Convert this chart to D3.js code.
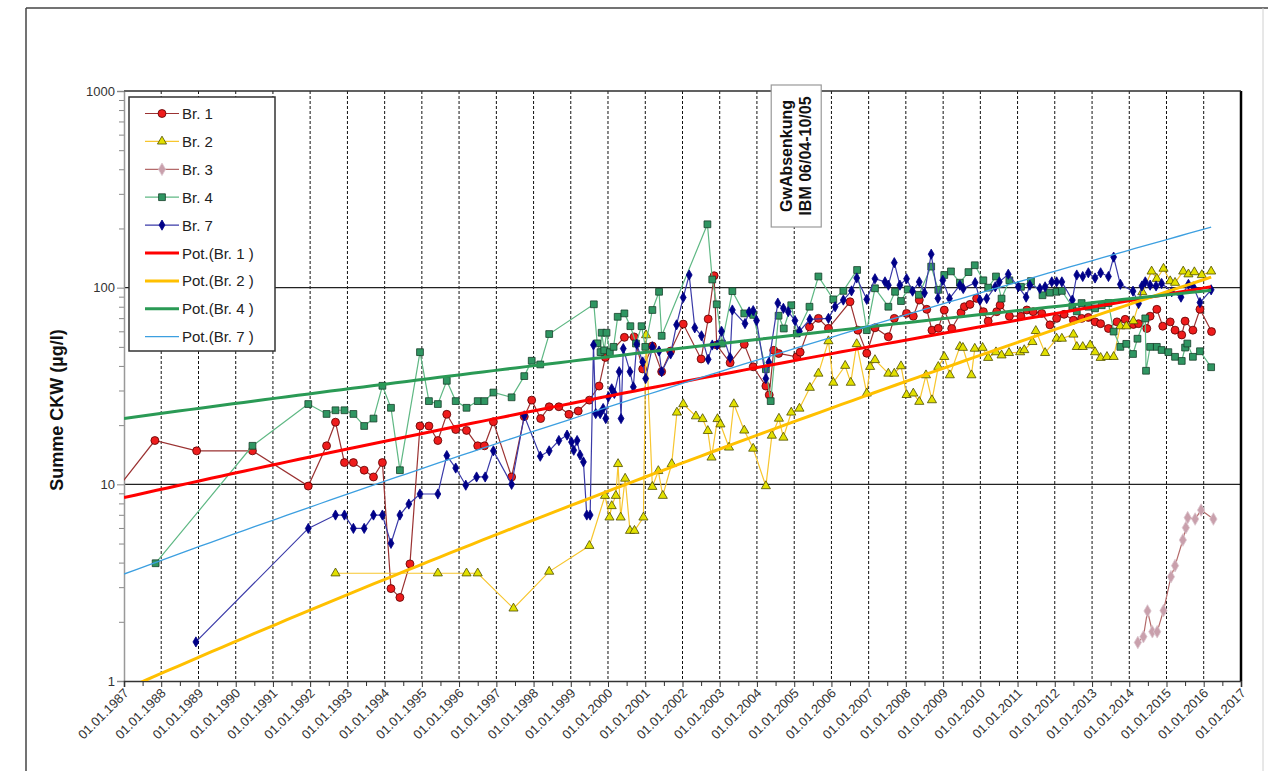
<!DOCTYPE html>
<html>
<head>
<meta charset="utf-8">
<script src="https://cdn.jsdelivr.net/npm/d3@7"></script>
<style>
  body { margin: 0; background: #fff; }
  svg { display: block; font-family: "Liberation Sans", Arial, sans-serif; }
</style>
</head>
<body>
<div id="chart"></div>
<script>
// values, dates as decimal years
const br1Years = [1986.8, 1987.83, 1988.95, 1990.45, 1991.95, 1992.44, 1992.68, 1992.92, 1993.16, 1993.45, 1993.70, 1993.94, 1994.17, 1994.41, 1994.68, 1994.95, 1995.19, 1995.43, 1995.67, 1995.91, 1996.20, 1996.50, 1996.68, 1996.92, 1997.41, 1997.75, 1997.95, 1998.19, 1998.42, 1998.68, 1998.95, 1999.20, 1999.50, 1999.76, 1999.93, 2000.44, 2000.70, 2000.93, 2001.19, 2001.44, 2001.68, 2002.02, 2002.50, 2002.69, 2002.85, 2002.92, 2003.28, 2003.66, 2003.90, 2004.24, 2004.33, 2004.45, 2004.58, 2005.07, 2005.16, 2005.41, 2005.65, 2005.92, 2006.50, 2006.71, 2006.95, 2007.17, 2007.53, 2007.69, 2008.02, 2008.20, 2008.36, 2008.56, 2008.70, 2008.87, 2009.03, 2009.23, 2009.48, 2009.57, 2009.72, 2009.90, 2010.08, 2010.21, 2010.44, 2010.53, 2010.78, 2011.09, 2011.25, 2011.42, 2011.65, 2011.87, 2012.05, 2012.25, 2012.50, 2012.72, 2012.90, 2013.08, 2013.23, 2013.44, 2013.67, 2013.89, 2014.11, 2014.25, 2014.47, 2014.56, 2014.74, 2014.90, 2015.10, 2015.23, 2015.41, 2015.50, 2015.71, 2015.90, 2016.21];
const br1Values = [9.4, 16.7, 14.8, 14.8, 9.8, 15.7, 20.7, 12.9, 12.9, 11.8, 10.9, 12.9, 2.95, 2.66, 3.94, 19.8, 19.8, 16.7, 22.7, 19.0, 18.8, 15.7, 15.7, 20.8, 10.9, 22.1, 26.8, 21.6, 24.8, 24.8, 22.7, 23.6, 26.8, 31.6, 44.2, 55.9, 56.2, 38.6, 50.5, 37.4, 47.6, 65.3, 43.4, 69.3, 115, 51.1, 41.5, 51.5, 39.6, 31.6, 28.5, 48, 46.3, 44.5, 47, 63.2, 69.8, 62.1, 84.8, 60.8, 46.4, 62.5, 56.3, 69.8, 74, 71.6, 86.5, 77.6, 60.8, 62.1, 76.9, 62, 74.6, 80, 82.2, 88.2, 75.5, 67.6, 75.5, 81.4, 71.6, 71.6, 77, 75.5, 74, 64.7, 69.8, 73.2, 68.3, 69.8, 70.6, 67, 65.6, 62, 67, 69, 65, 65.6, 62, 71.6, 77.6, 63.7, 67, 60.8, 57.5, 67.6, 60.8, 77.6, 59.8];

const br2Years = [1992.68, 1995.43, 1996.20, 1996.50, 1997.46, 1998.42, 1999.50, 1999.92, 2000.04, 2000.10, 2000.21, 2000.27, 2000.34, 2000.46, 2000.59, 2000.71, 2000.95, 2001.02, 2001.19, 2001.35, 2001.47, 2001.71, 2001.85, 2002.02, 2002.36, 2002.54, 2002.68, 2002.78, 2002.94, 2003.02, 2003.25, 2003.38, 2003.66, 2003.90, 2004.24, 2004.40, 2004.59, 2004.71, 2004.92, 2005.14, 2005.42, 2005.65, 2005.92, 2006.05, 2006.37, 2006.52, 2006.68, 2006.95, 2007.04, 2007.17, 2007.53, 2007.69, 2007.87, 2008.02, 2008.20, 2008.36, 2008.54, 2008.70, 2008.87, 2009.03, 2009.18, 2009.45, 2009.53, 2009.76, 2009.85, 2010.06, 2010.21, 2010.42, 2010.57, 2010.77, 2011.07, 2011.18, 2011.40, 2011.49, 2011.74, 2012.05, 2012.19, 2012.50, 2012.59, 2012.75, 2012.95, 2013.08, 2013.23, 2013.40, 2013.58, 2013.76, 2013.92, 2014.11, 2014.35, 2014.60, 2014.74, 2014.92, 2015.10, 2015.23, 2015.45, 2015.59, 2015.75, 2015.95, 2016.20];
const br2Values = [3.53, 3.53, 3.53, 3.53, 2.34, 3.6, 4.87, 8.75, 6.79, 7.76, 8.75, 12.7, 6.79, 10.7, 5.81, 5.81, 6.79, 57.4, 9.72, 11.7, 8.75, 12.7, 23.2, 25.6, 22.2, 21.5, 18.7, 13.7, 21.5, 20.2, 15.4, 25.6, 18.8, 15.2, 9.8, 17.7, 21.6, 17.3, 23.2, 24.3, 31, 36.6, 53.5, 32.9, 40.1, 32.9, 51.7, 29, 39.6, 42.9, 36.6, 36.6, 39.9, 28.5, 29, 26.3, 35.9, 26.8, 39.6, 44.5, 35.9, 50.1, 49.5, 35.9, 49, 49.5, 44, 47, 45.3, 46.6, 47, 48.2, 53, 60.3, 46.6, 55.1, 55.1, 57.8, 50, 50, 51, 47, 44, 44.5, 44.5, 63.7, 63.7, 67.6, 95, 121, 111, 125, 108, 106, 121, 117, 120, 116, 121];

const br3Years = [2014.23, 2014.38, 2014.49, 2014.62, 2014.75, 2014.92, 2015.12, 2015.23, 2015.44, 2015.52, 2015.57, 2015.77, 2015.93, 2016.26];
const br3Values = [1.57, 1.68, 2.27, 1.78, 1.78, 2.28, 3.39, 3.86, 5.21, 6.02, 6.77, 6.66, 7.4, 6.66];

const br4Years = [1987.85, 1990.45, 1991.95, 1992.44, 1992.68, 1992.92, 1993.16, 1993.45, 1993.70, 1993.94, 1994.17, 1994.41, 1994.95, 1995.19, 1995.43, 1995.67, 1995.91, 1996.20, 1996.50, 1996.68, 1996.92, 1997.41, 1997.75, 1997.95, 1998.18, 1998.42, 1999.62, 1999.71, 1999.80, 1999.83, 1999.90, 1999.96, 2000.05, 2000.15, 2000.26, 2000.44, 2000.60, 2000.75, 2000.90, 2001.00, 2001.19, 2001.37, 2001.44, 2002.67, 2002.80, 2002.92, 2003.06, 2003.34, 2003.66, 2003.90, 2004.24, 2004.37, 2004.58, 2004.72, 2004.92, 2005.07, 2005.41, 2005.65, 2006.05, 2006.32, 2006.69, 2006.95, 2007.17, 2007.53, 2007.71, 2007.87, 2008.05, 2008.35, 2008.68, 2008.87, 2009.03, 2009.21, 2009.45, 2009.68, 2009.85, 2010.08, 2010.21, 2010.42, 2010.57, 2010.78, 2011.09, 2011.36, 2011.67, 2011.87, 2012.05, 2012.19, 2012.47, 2012.59, 2012.72, 2012.90, 2013.08, 2013.26, 2013.44, 2013.58, 2013.76, 2013.92, 2014.10, 2014.22, 2014.43, 2014.45, 2014.56, 2014.74, 2014.87, 2015.05, 2015.23, 2015.41, 2015.50, 2015.56, 2015.71, 2015.90, 2016.20];
const br4Values = [3.97, 15.7, 25.6, 22.8, 23.8, 23.8, 22.8, 19.8, 21.6, 31.7, 24.5, 11.8, 47, 26.5, 25.6, 33.6, 26.5, 24.5, 26.5, 26.5, 29.3, 27.7, 35.5, 42.5, 40.7, 58.1, 82.3, 52.1, 47, 59, 48, 59, 47, 50, 71.1, 74, 63.7, 52, 63.7, 50, 77, 95.3, 56.9, 210, 110, 82.3, 52, 96, 74, 72.7, 38.5, 26.5, 72, 62, 81.4, 58.5, 80, 114, 87.2, 96.3, 123, 60.8, 99.3, 80, 95.3, 85.5, 98, 92, 128, 97.5, 116, 121, 106, 120, 130, 109, 100, 114, 88, 109, 101, 108, 91.5, 94.3, 95.3, 96.3, 80, 75.8, 83.5, 80, 78.5, 81.4, 83.5, 59.8, 50, 51.8, 46, 55, 69.8, 37.8, 50, 50, 48.2, 47, 44.5, 42.4, 49.6, 52, 44.5, 47.5, 39.4];

const br7Years = [1988.93, 1991.95, 1992.68, 1992.92, 1993.16, 1993.45, 1993.70, 1993.94, 1994.17, 1994.41, 1994.65, 1994.95, 1995.43, 1995.67, 1995.91, 1996.18, 1996.47, 1996.70, 1996.92, 1997.41, 1997.75, 1998.18, 1998.42, 1998.68, 1998.90, 1999.02, 1999.08, 1999.17, 1999.25, 1999.34, 1999.43, 1999.52, 1999.61, 1999.67, 1999.79, 1999.87, 1999.94, 2000.01, 2000.10, 2000.17, 2000.30, 2000.35, 2000.41, 2000.59, 2000.68, 2000.77, 2000.93, 2001.01, 2001.19, 2001.37, 2001.44, 2001.68, 2001.84, 2002.02, 2002.18, 2002.33, 2002.51, 2002.69, 2002.80, 2002.93, 2003.05, 2003.28, 2003.34, 2003.68, 2003.79, 2003.90, 2003.99, 2004.24, 2004.32, 2004.56, 2004.71, 2004.84, 2005.02, 2005.14, 2005.42, 2005.92, 2006.10, 2006.32, 2006.54, 2006.68, 2006.95, 2007.17, 2007.44, 2007.53, 2007.69, 2007.84, 2008.02, 2008.18, 2008.36, 2008.50, 2008.68, 2008.86, 2008.99, 2009.17, 2009.45, 2009.54, 2009.86, 2009.99, 2010.17, 2010.40, 2010.51, 2010.75, 2011.02, 2011.23, 2011.33, 2011.60, 2011.74, 2011.92, 2012.05, 2012.19, 2012.47, 2012.59, 2012.75, 2012.90, 2013.08, 2013.23, 2013.44, 2013.58, 2013.76, 2014.10, 2014.25, 2014.34, 2014.43, 2014.56, 2014.72, 2014.87, 2015.14, 2015.39, 2015.59, 2015.72, 2015.90, 2016.20];
const br7Values = [1.58, 5.97, 6.98, 6.98, 5.97, 5.97, 6.98, 6.98, 5.01, 6.98, 7.94, 8.93, 8.93, 14, 12.1, 9.9, 10.9, 10.9, 14.8, 10, 22.3, 13.9, 14.8, 16.7, 17.8, 16.4, 14.9, 16.7, 14.1, 13, 6.98, 6.98, 51.1, 22.9, 22.9, 24.3, 21.6, 27.8, 30.6, 29, 37.4, 21.6, 49, 37.4, 31.3, 51.6, 41.9, 34.5, 50, 47.6, 37.4, 46, 64.7, 89.1, 116, 62.5, 56.9, 43.2, 51.1, 51.1, 60, 44.1, 77, 65.7, 75.3, 76.4, 68, 34.5, 41.7, 83.5, 78.5, 75.5, 68, 60, 69, 69.8, 80, 86.5, 96.3, 112, 87.2, 111, 107, 103, 134, 103, 111, 96, 107, 94, 148, 88.2, 109, 88, 103, 99, 106, 86.5, 88, 101, 107, 117, 101, 89.5, 103, 99, 101, 107, 107, 107, 86.5, 116, 114, 119, 112, 119, 114, 143, 104, 96, 83, 102, 107, 103, 102, 105, 95.3, 89.5, 104, 101, 84, 97.5];

const seriesNames = ["Br. 1", "Br. 2", "Br. 3", "Br. 4", "Br. 7"];
const trendNames = ["Pot.(Br. 1 )", "Pot.(Br. 2 )", "Pot.(Br. 4 )", "Pot.(Br. 7 )"];
const yTickValues = [1, 10, 100, 1000];
const xStartYear = 1987;
const xEndYear = 2017;
const trendEnd = 2016.2;
const noteLines = ["GwAbsenkung", "IBM 06/04-10/05"];
const noteYear = 2005;

const size = { width: 1268, height: 771, left: 124, top: 91, right: 1241, bottom: 681 };

function yearToDate(y) {
  const yr = Math.floor(y);
  const start = Date.UTC(yr, 0, 1), end = Date.UTC(yr + 1, 0, 1);
  return new Date(start + (y - yr) * (end - start));
}

// Excel style power trend: y = a * x^b with x as Excel serial date
const excelEpoch = Date.UTC(1899, 11, 30);
function serial(d) { return (d.getTime() - excelEpoch) / 86400000; }
function powerFit(years, values) {
  const xs = years.map(y => Math.log(serial(yearToDate(y))));
  const ys = values.map(v => Math.log(v));
  const mx = d3.mean(xs), my = d3.mean(ys);
  let sxy = 0, sxx = 0;
  xs.forEach((x, i) => { sxy += (x - mx) * (ys[i] - my); sxx += (x - mx) * (x - mx); });
  const b = sxy / sxx;
  const a = Math.exp(my - b * mx);
  return d => a * Math.pow(serial(d), b);
}

const series = [
  { name: seriesNames[0], years: br1Years, values: br1Values, line: "#9b3232", fill: "#ee1c1c", stroke: "#5a0000", shape: "circle" },
  { name: seriesNames[1], years: br2Years, values: br2Values, line: "#f7c62f", fill: "#e2e000", stroke: "#4d4d00", shape: "triangle" },
  { name: seriesNames[2], years: br3Years, values: br3Values, line: "#b46a6a", fill: "#c9a0ac", stroke: "#dcc6cf", shape: "diamond" },
  { name: seriesNames[3], years: br4Years, values: br4Values, line: "#5fb884", fill: "#2f9662", stroke: "#163f2a", shape: "square" },
  { name: seriesNames[4], years: br7Years, values: br7Values, line: "#3a3aa8", fill: "#000088", stroke: "#000088", shape: "smalldiamond" }
];

const trends = [
  { name: trendNames[0], src: series[0], colour: "#ff0000", width: 3 },
  { name: trendNames[1], src: series[1], colour: "#ffc000", width: 3 },
  { name: trendNames[2], src: series[3], colour: "#2a9a55", width: 3 },
  { name: trendNames[3], src: series[4], colour: "#3c9fe0", width: 1.3 }
];

const x = d3.scaleUtc()
  .domain([yearToDate(xStartYear), yearToDate(xEndYear)])
  .range([size.left, size.right]);
const y = d3.scaleLog()
  .domain([1, 1000])
  .range([size.bottom, size.top]);

const svg = d3.select("#chart").append("svg")
  .attr("width", size.width)
  .attr("height", size.height);

// page frame
svg.append("line").attr("x1", 26).attr("y1", 8).attr("x2", size.width).attr("y2", 8)
  .attr("stroke", "#444").attr("stroke-width", 1.5);
svg.append("line").attr("x1", 26).attr("y1", 8).attr("x2", 26).attr("y2", size.height)
  .attr("stroke", "#444").attr("stroke-width", 1.5);
svg.append("line").attr("x1", 1263).attr("y1", 8).attr("x2", 1263).attr("y2", size.height)
  .attr("stroke", "#d0d0d0").attr("stroke-width", 1);

svg.append("defs").append("clipPath").attr("id", "plot")
  .append("rect")
  .attr("x", size.left).attr("y", size.top)
  .attr("width", size.right - size.left).attr("height", size.bottom - size.top);

const yearTicks = d3.range(xStartYear, xEndYear + 1).map(yearToDate);
const halfTicks = d3.range(xStartYear, xEndYear).map(v => yearToDate(v + 0.5));

// dashed vertical grid, one per year
svg.append("g").selectAll("line")
  .data(yearTicks.slice(1, -1))
  .join("line")
  .attr("x1", d => x(d)).attr("x2", d => x(d))
  .attr("y1", size.top).attr("y2", size.bottom)
  .attr("stroke", "#111").attr("stroke-width", 1)
  .attr("stroke-dasharray", "3,2");

// solid horizontal grid at decades
svg.append("g").selectAll("line")
  .data(yTickValues.slice(1))
  .join("line")
  .attr("x1", size.left).attr("x2", size.right)
  .attr("y1", d => y(d)).attr("y2", d => y(d))
  .attr("stroke", "#222").attr("stroke-width", 1.2);

// right border
svg.append("line")
  .attr("x1", size.right).attr("x2", size.right)
  .attr("y1", size.top).attr("y2", size.bottom)
  .attr("stroke", "#000").attr("stroke-width", 2.5);

// y axis
const minorY = [];
[1, 10, 100].forEach(dec => d3.range(2, 10).forEach(k => minorY.push(dec * k)));
svg.append("g")
  .attr("transform", `translate(${size.left},0)`)
  .call(d3.axisLeft(y).tickValues(minorY).tickSize(5).tickFormat(""))
  .call(g => g.select(".domain").remove())
  .selectAll("line").attr("stroke", "#888");
const yAxis = svg.append("g")
  .attr("transform", `translate(${size.left},0)`)
  .call(d3.axisLeft(y).tickValues(yTickValues).tickSize(7).tickPadding(2).tickFormat(d3.format("d")));
yAxis.select(".domain").attr("stroke", "#999").attr("stroke-width", 1.5);
yAxis.selectAll(".tick line").attr("stroke", "#888");
yAxis.selectAll("text").attr("font-size", 13).attr("fill", "#333")
  .attr("font-family", "Liberation Sans, Arial, sans-serif");

svg.append("text")
  .attr("transform", `translate(63,410) rotate(-90)`)
  .attr("text-anchor", "middle")
  .attr("font-size", 18).attr("font-weight", "bold").attr("fill", "#111")
  .text("Summe CKW (µg/l)");

// x axis
svg.append("g")
  .attr("transform", `translate(0,${size.bottom})`)
  .call(d3.axisBottom(x).tickValues(halfTicks).tickSize(5).tickFormat(""))
  .call(g => g.select(".domain").remove())
  .selectAll("line").attr("stroke", "#333");
const xAxis = svg.append("g")
  .attr("transform", `translate(0,${size.bottom})`)
  .call(d3.axisBottom(x).tickValues(yearTicks).tickSize(6).tickFormat(d3.utcFormat("%d.%m.%Y")));
xAxis.select(".domain").attr("stroke", "#333").attr("stroke-width", 1.6);
xAxis.selectAll(".tick line").attr("stroke", "#333");
xAxis.selectAll("text")
  .attr("font-size", 13).attr("fill", "#333")
  .attr("font-family", "Liberation Sans, Arial, sans-serif")
  .attr("text-anchor", "end")
  .attr("y", 0).attr("dy", 0)
  .attr("transform", "translate(5,13) rotate(-45)");

// top border
svg.append("line")
  .attr("x1", size.left).attr("x2", size.right)
  .attr("y1", size.top).attr("y2", size.top)
  .attr("stroke", "#333").attr("stroke-width", 1.2);

const plot = svg.append("g").attr("clip-path", "url(#plot)");

function markerPath(shape) {
  if (shape === "circle") return d3.symbol(d3.symbolCircle, 50)();
  if (shape === "triangle") return d3.symbol(d3.symbolTriangle, 36)();
  if (shape === "square") return d3.symbol(d3.symbolSquare, 46)();
  if (shape === "diamond") return d3.symbol(d3.symbolDiamond, 46)();
  return d3.symbol(d3.symbolDiamond, 30)();
}

const line = d3.line().x(d => x(d.date)).y(d => y(d.value));

series.forEach(s => {
  const pts = s.years.map((yr, i) => ({ date: yearToDate(yr), value: s.values[i] }));
  plot.append("path")
    .datum(pts)
    .attr("d", line)
    .attr("fill", "none")
    .attr("stroke", s.line)
    .attr("stroke-width", 1.2);
  plot.append("g").selectAll("path")
    .data(pts)
    .join("path")
    .attr("transform", d => `translate(${x(d.date)},${y(d.value)})`)
    .attr("d", markerPath(s.shape))
    .attr("fill", s.fill)
    .attr("stroke", s.stroke)
    .attr("stroke-width", 0.8);
});

// power trend lines
trends.forEach(t => {
  const f = powerFit(t.src.years, t.src.values);
  const dates = d3.range(0, 101).map(i => yearToDate(xStartYear + (trendEnd - xStartYear) * i / 100));
  plot.append("path")
    .datum(dates.map(d => ({ date: d, value: f(d) })))
    .attr("d", line)
    .attr("fill", "none")
    .attr("stroke", t.colour)
    .attr("stroke-width", t.width);
});

// note box
const noteX = x(yearToDate(noteYear));
const note = svg.append("g").attr("transform", `translate(${noteX + 2},156)`);
note.append("rect")
  .attr("x", -25).attr("y", -71).attr("width", 50).attr("height", 142)
  .attr("fill", "#fff").attr("stroke", "#999").attr("stroke-width", 1.2);
note.append("g").attr("transform", "rotate(-90)")
  .selectAll("text")
  .data(noteLines)
  .join("text")
  .attr("x", 0)
  .attr("y", (d, i) => -9.5 + i * 18.5)
  .attr("dominant-baseline", "central")
  .attr("text-anchor", "middle")
  .attr("font-size", 16).attr("font-weight", "bold").attr("fill", "#111")
  .text(d => d);

// legend
const legendItems = series.map(s => ({ name: s.name, s }))
  .concat(trends.map(t => ({ name: t.name, t })));
const legend = svg.append("g");
legend.append("rect")
  .attr("x", 129).attr("y", 97).attr("width", 146).attr("height", 254)
  .attr("fill", "#fff").attr("stroke", "#333").attr("stroke-width", 1.5);
const rows = legend.selectAll("g.row")
  .data(legendItems)
  .join("g")
  .attr("class", "row")
  .attr("transform", (d, i) => `translate(0,${113.5 + i * 27.9})`);
rows.append("line")
  .attr("x1", 145).attr("x2", 179).attr("y1", 0).attr("y2", 0)
  .attr("stroke", d => d.s ? d.s.line : d.t.colour)
  .attr("stroke-width", d => d.s ? 1.2 : d.t.width);
rows.filter(d => d.s).append("path")
  .attr("transform", "translate(162,0)")
  .attr("d", d => markerPath(d.s.shape))
  .attr("fill", d => d.s.fill)
  .attr("stroke", d => d.s.stroke)
  .attr("stroke-width", 0.8);
rows.append("text")
  .attr("x", 182).attr("y", 0)
  .attr("dominant-baseline", "central")
  .attr("font-size", 15).attr("fill", "#222")
  .text(d => d.name);
</script>
</body>
</html>
